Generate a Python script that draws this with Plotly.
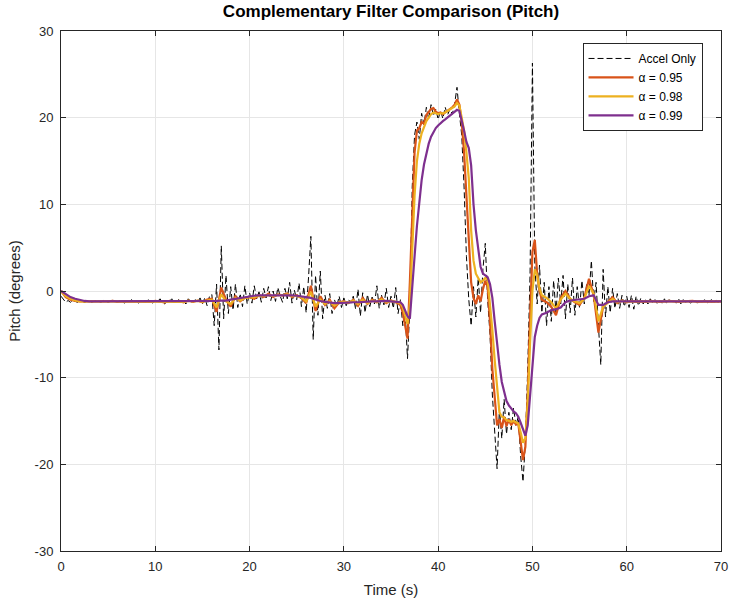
import numpy as np
import plotly.graph_objects as go

# ---------------- data ----------------
# Accel-only pitch, sampled every 0.25 s from 0 to 70 s (one row = 1 s)
accel_only = [
    -0.6, -1.0, -1.3, -1.1,   # 0
    -1.3, -1.1, -1.2, -1.3,   # 1
    -1.1, -1.2, -1.3, -1.2,   # 2
    -1.1, -1.3, -1.2, -1.1,   # 3
    -1.2, -1.3, -1.1, -1.2,   # 4
    -1.3, -1.2, -1.0, -1.2,   # 5
    -1.3, -1.1, -1.2, -1.4,   # 6
    -1.1, -1.2, -1.0, -1.3,   # 7
    -1.2, -1.4, -1.1, -1.2,   # 8
    -1.3, -1.0, -1.2, -1.4,   # 9
    -1.1, -1.2, -0.9, -1.3,   # 10
    -1.5, -1.1, -1.2, -0.9,   # 11
    -1.4, -1.2, -1.0, -1.3,   # 12
    -1.2, -1.5, -0.9, -1.2,   # 13
    -1.4, -1.0, -1.3, -0.8,   # 14
    -1.5, -0.8, -1.7, -0.6,   # 15
    -0.4, -4.0, 0.8, -6.8,    # 16
    5.2, -3.2, 1.8, -2.6,     # 17
    0.5, -2.2, 0.8, -1.9,     # 18
    -0.3, -1.8, 0.6, -1.5,    # 19
    -0.2, -1.4, 0.6, -0.9,    # 20
    -0.1, -1.3, 0.3, -0.8,    # 21
    0.5, -1.1, 0.0, -1.2,     # 22
    0.4, -0.6, -1.3, 0.3,     # 23
    -0.9, 1.0, -1.4, 0.1,     # 24
    -1.0, 0.9, -1.8, 0.5,     # 25
    -2.5, 1.5, 6.3, -5.6,     # 26
    1.8, -2.8, 2.3, -3.2,     # 27
    -0.5, -2.0, -0.3, -2.6,   # 28
    -1.0, -1.8, -0.6, -1.9,   # 29
    -0.8, -1.7, -1.0, -1.4,   # 30
    -0.6, -2.1, 0.2, -2.9,    # 31
    -0.2, -2.5, -0.4, -1.8,   # 32
    -0.7, -1.5, 0.6, -2.0,    # 33
    -0.5, -1.6, 0.3, -1.9,    # 34
    -0.6, -2.0, 0.4, -2.6,    # 35
    -1.0, -4.0, -2.5, -7.8,   # 36
    -2.0, 12.0, 18.0, 19.5,   # 37
    17.5, 20.5, 19.2, 21.2,   # 38
    19.8, 21.5, 20.2, 21.0,   # 39
    19.8, 20.8, 19.9, 21.2,   # 40
    20.3, 21.0, 20.4, 21.6,   # 41
    23.5, 20.5, 18.0, 12.0,   # 42
    4.0, -1.0, -4.0, 0.5,     # 43
    -3.0, 1.5, -2.5, 2.5,     # 44
    5.5, -1.0, -5.0, -12.0,   # 45
    -16.5, -20.5, -13.5, -17.0,  # 46
    -12.5, -16.5, -14.0, -16.0,  # 47
    -13.5, -15.5, -14.5, -19.0,  # 48
    -22.0, -17.5, -9.0, 2.0,  # 49
    26.3, 3.0, -1.5, 3.0,     # 50
    -2.5, 1.0, -4.0, 0.5,     # 51
    -3.5, 1.2, -2.5, 1.5,     # 52
    -1.5, 1.8, -3.2, 0.8,     # 53
    -2.5, 1.5, -2.8, 0.5,     # 54
    -2.0, 1.2, -1.5, 0.8,     # 55
    -0.5, 3.5, -1.2, 1.0,     # 56
    -4.0, -8.5, 2.5, -3.0,    # 57
    0.5, -2.5, 0.3, -2.0,     # 58
    -0.3, -2.0, -0.5, -1.8,   # 59
    -0.6, -1.9, -0.5, -2.1,   # 60
    -0.6, -1.7, -0.8, -1.5,   # 61
    -1.0, -1.5, -0.9, -1.4,   # 62
    -1.0, -1.5, -1.1, -1.4,   # 63
    -0.9, -1.5, -1.0, -1.3,   # 64
    -1.1, -1.4, -0.9, -1.5,   # 65
    -1.0, -1.3, -1.1, -1.4,   # 66
    -1.2, -1.0, -1.4, -1.1,   # 67
    -1.3, -1.0, -1.4, -1.2,   # 68
    -1.0, -1.3, -1.1, -1.4,   # 69
    -1.2,                     # 70
]
time_accel = np.arange(len(accel_only)) * 0.25

# Filter outputs: 0-36 s every 0.5 s, 36.25-51 s every 0.25 s, 51.5-70 s every 0.5 s
time_filter = np.concatenate([np.arange(0, 36.001, 0.5),
                              np.arange(36.25, 51.001, 0.25),
                              np.arange(51.5, 70.001, 0.5)])

alpha_095 = [
    0.0, -0.7, -1.0, -1.15, -1.2, -1.2, -1.25, -1.2, -1.2, -1.25,
    -1.2, -1.15, -1.25, -1.2, -1.2, -1.2, -1.25, -1.2, -1.2, -1.25,
    -1.15, -1.2, -1.3, -1.15, -1.25, -1.15, -1.3, -1.1, -1.25, -1.1,
    -1.3, -1.0, -0.9, -2.4, 0.4, -1.0, -1.8, -0.6, -1.2, -0.8,
    -0.7, -0.9, -0.5, -0.7, -0.3, -0.7, -0.4, -0.5, -0.3, -0.7,
    -0.5, -0.8, -1.4, 0.6, -2.3, -0.6, -1.6, -1.0, -2.0, -1.3,
    -1.2, -1.4, -1.0, -1.7, -0.8, -1.5, -1.0, -1.3, -0.8, -1.4,
    -1.1, -1.3, -1.6,
    -2.5, -4.2, -5.5,
    1.0, 9.5, 16.0, 18.5,
    18.8, 19.5, 19.3, 20.3,
    20.6, 21.0, 21.1, 20.7,
    20.5, 20.6, 20.4, 20.6,
    20.8, 20.9, 21.2, 21.5,
    22.1, 21.5, 19.5, 16.0,
    10.5, 5.0, 1.0, -0.8,
    -1.5, -0.5, -1.2, 0.2,
    1.2, 0.5, -3.5, -9.0,
    -12.5, -15.5, -14.8, -15.8,
    -14.5, -15.6, -14.8, -15.5,
    -15.0, -15.4, -15.3, -17.5,
    -19.5, -18.0, -12.0, -3.0,
    4.5, 5.9, 2.0, 0.0,
    -1.0,
    -1.3, -1.8, -2.8, -0.8, 0.0, -0.9, -1.3, -1.6, -0.8, 1.4,
    -0.5, -4.8, -1.8, -1.3, -0.7, -1.4, -1.1, -1.3,
    -1.15, -1.25, -1.2, -1.25, -1.15, -1.2, -1.25, -1.2, -1.15, -1.2,
    -1.25, -1.2, -1.2, -1.15, -1.25, -1.2, -1.2, -1.25, -1.2, -1.2,
]

alpha_098 = [
    0.0, -0.6, -0.9, -1.1, -1.2, -1.2, -1.2, -1.2, -1.2, -1.2,
    -1.2, -1.2, -1.2, -1.2, -1.2, -1.2, -1.2, -1.2, -1.2, -1.2,
    -1.2, -1.2, -1.25, -1.2, -1.2, -1.2, -1.25, -1.15, -1.2, -1.15,
    -1.25, -1.1, -1.0, -1.9, -0.4, -1.2, -1.5, -0.8, -1.1, -0.8,
    -0.7, -0.75, -0.55, -0.6, -0.45, -0.6, -0.45, -0.5, -0.4, -0.6,
    -0.55, -0.75, -1.2, -0.1, -1.8, -1.0, -1.5, -1.2, -1.7, -1.35,
    -1.25, -1.35, -1.1, -1.5, -1.0, -1.4, -1.1, -1.3, -0.95, -1.3,
    -1.15, -1.25, -1.4,
    -1.9, -2.9, -3.8,
    -1.5, 4.5, 11.0, 15.0,
    17.0, 18.2, 19.0, 19.6,
    20.0, 20.4, 20.6, 20.5,
    20.4, 20.5, 20.5, 20.6,
    20.8, 20.9, 21.1, 21.3,
    21.7, 21.4, 20.0, 18.5,
    16.0, 13.0, 7.0, 3.5,
    2.0, 1.5, 1.0, 1.2,
    1.5, 1.3, -1.5, -4.5,
    -8.0, -11.5, -14.0, -14.5,
    -14.6, -14.9, -15.0, -15.1,
    -15.0, -15.2, -15.3, -16.3,
    -17.5, -17.0, -13.0, -6.0,
    0.0, 2.5, 1.8, 0.3,
    -0.5,
    -0.8, -1.3, -2.0, -1.0, -0.3, -0.9, -1.2, -1.4, -0.9, 0.6,
    -0.3, -3.5, -1.8, -1.3, -0.9, -1.3, -1.15, -1.25,
    -1.2, -1.2, -1.2, -1.2, -1.2, -1.2, -1.2, -1.2, -1.2, -1.2,
    -1.2, -1.2, -1.2, -1.2, -1.2, -1.2, -1.2, -1.2, -1.2, -1.2,
]

alpha_099 = [
    0.0, -0.4, -0.7, -0.9, -1.05, -1.15, -1.2, -1.2, -1.2, -1.2,
    -1.2, -1.2, -1.2, -1.2, -1.2, -1.2, -1.2, -1.2, -1.2, -1.2,
    -1.2, -1.2, -1.2, -1.2, -1.2, -1.2, -1.2, -1.2, -1.2, -1.2,
    -1.2, -1.2, -1.2, -1.15, -1.1, -1.1, -1.0, -0.9, -0.8, -0.7,
    -0.6, -0.55, -0.5, -0.5, -0.5, -0.45, -0.45, -0.5, -0.45, -0.5,
    -0.55, -0.6, -0.7, -0.8, -1.0, -1.15, -1.25, -1.35, -1.4, -1.4,
    -1.35, -1.3, -1.3, -1.3, -1.25, -1.2, -1.2, -1.2, -1.15, -1.15,
    -1.2, -1.25, -1.3,
    -1.6, -2.2, -2.9,
    -3.2, 0.0, 4.0, 7.5,
    10.5, 12.8, 14.6, 16.0,
    17.0, 17.8, 18.4, 18.8,
    19.1, 19.4, 19.6, 19.8,
    20.0, 20.2, 20.4, 20.6,
    20.9, 20.8, 19.8, 18.5,
    17.2, 16.5, 14.5, 10.0,
    7.0, 5.0, 2.8, 2.0,
    1.8, 1.6, 0.8, -0.8,
    -3.5, -6.2, -8.5, -10.5,
    -11.8, -12.7, -13.2, -13.6,
    -13.9, -14.1, -14.5, -15.2,
    -16.0, -16.7, -15.5, -12.0,
    -8.0, -5.3, -4.0, -3.1,
    -2.7,
    -2.5, -2.2, -2.1, -1.9, -1.3, -1.1, -1.05, -1.0, -0.9, -0.6,
    -0.5, -1.6, -1.6, -1.3, -1.2, -1.2, -1.2, -1.2,
    -1.2, -1.2, -1.2, -1.2, -1.2, -1.2, -1.2, -1.2, -1.2, -1.2,
    -1.2, -1.2, -1.2, -1.2, -1.2, -1.2, -1.2, -1.2, -1.2, -1.2,
]

series_names = ["Accel Only", "α = 0.95", "α = 0.98", "α = 0.99"]
x_ticks = [0, 10, 20, 30, 40, 50, 60, 70]
y_ticks = [-30, -20, -10, 0, 10, 20, 30]

# ---------------- figure ----------------
FONT = "Liberation Sans, Arial, Helvetica, sans-serif"
AX = "#262626"

fig = go.Figure()
fig.add_trace(go.Scatter(x=time_accel, y=accel_only, mode="lines", name=series_names[0],
                         line=dict(color="black", width=1, dash="6px,3px")))
fig.add_trace(go.Scatter(x=time_filter, y=alpha_095, mode="lines", name=series_names[1],
                         line=dict(color="#D95319", width=2.2)))
fig.add_trace(go.Scatter(x=time_filter, y=alpha_098, mode="lines", name=series_names[2],
                         line=dict(color="#EDB120", width=2.2)))
fig.add_trace(go.Scatter(x=time_filter, y=alpha_099, mode="lines", name=series_names[3],
                         line=dict(color="#7E2F8E", width=2.2)))

axis_common = dict(showgrid=True, gridcolor="#e6e6e6", gridwidth=1, zeroline=False,
                   showline=True, linecolor=AX, linewidth=1, mirror="ticks",
                   ticks="inside", ticklen=5, tickcolor=AX, tickwidth=1,
                   automargin=False,
                   tickfont=dict(family=FONT, size=13, color=AX))

fig.update_layout(
    width=730, height=601,
    margin=dict(l=61, r=9, t=31, b=50),
    paper_bgcolor="white", plot_bgcolor="white",
    font=dict(family=FONT, color=AX),
    title=dict(text="<b>Complementary Filter Comparison (Pitch)</b>",
               x=(61 + 721) / 2 / 730, xanchor="center", y=1 - 11 / 601, yanchor="middle",
               font=dict(family=FONT, size=17, color="black")),
    xaxis=dict(range=[0, 70], tickvals=x_ticks, ticktext=[str(v) for v in x_ticks],
               ticklabelstandoff=3,
               title=dict(text="Time (s)", standoff=11, font=dict(family=FONT, size=15, color=AX)),
               **axis_common),
    yaxis=dict(range=[-30, 30], tickvals=y_ticks, ticktext=[str(v) for v in y_ticks],
               ticklabelstandoff=4,
               title=dict(text="Pitch (degrees)", standoff=10, font=dict(family=FONT, size=15, color=AX)),
               **axis_common),
    legend=dict(x=0.972, y=0.977, xanchor="right", yanchor="top",
                bgcolor="white", bordercolor=AX, borderwidth=1,
                font=dict(family=FONT, size=12, color="black"),
                tracegroupgap=0, itemwidth=45),
    showlegend=True,
)

fig.write_html("out.html")
